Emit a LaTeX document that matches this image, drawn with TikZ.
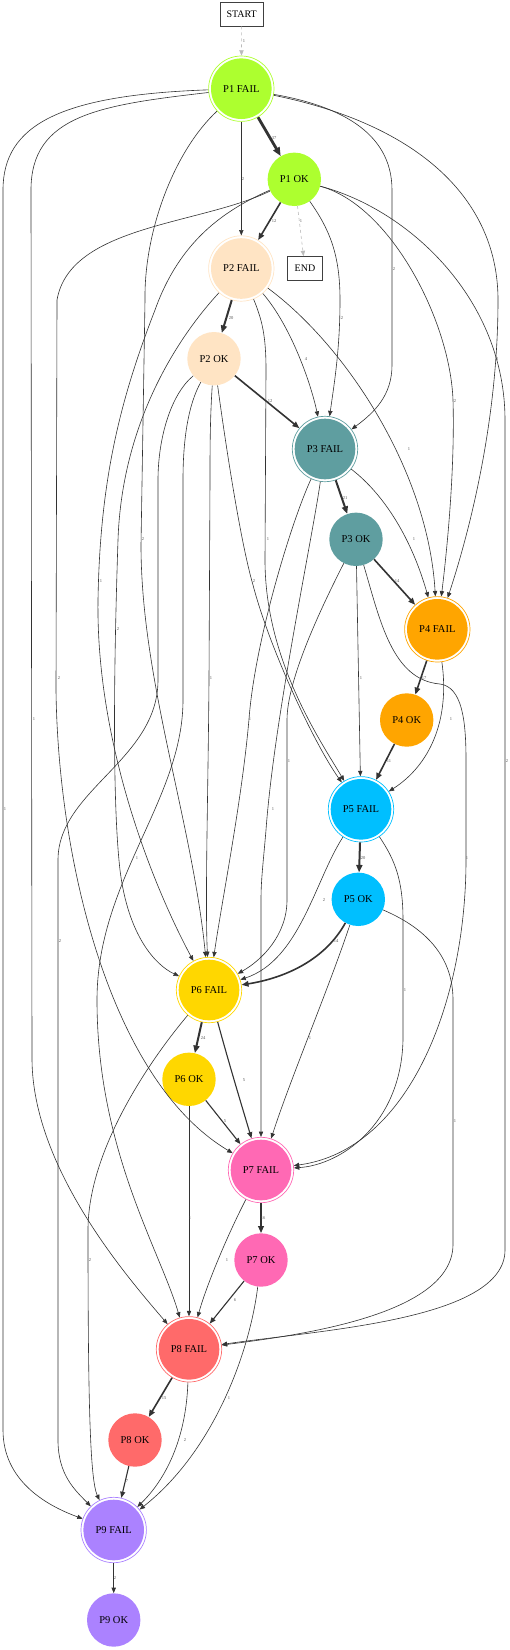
\documentclass[tikz,border=0pt]{standalone}
\usepackage{fontspec}
\setmainfont{Liberation Serif}
\usetikzlibrary{arrows.meta}
\definecolor{cP1}{HTML}{ADFF2F}
\definecolor{cP2}{HTML}{FFE4C4}
\definecolor{cP3}{HTML}{5F9EA0}
\definecolor{cP4}{HTML}{FFA500}
\definecolor{cP5}{HTML}{00BFFF}
\definecolor{cP6}{HTML}{FFD700}
\definecolor{cP7}{HTML}{FF69B4}
\definecolor{cP8}{HTML}{FF6A6A}
\definecolor{cP9}{HTML}{AB82FF}
\definecolor{edgec}{HTML}{333333}
\definecolor{lgray}{HTML}{BBBBBB}
\definecolor{lblc}{HTML}{555555}
\begin{document}
\begin{tikzpicture}[x=1pt,y=-1pt,
  failn/.style={circle, minimum size=65.4pt, inner sep=0pt, draw=#1, line width=0.7pt,
    font=\fontsize{10.5}{12}\selectfont,
    path picture={\fill[#1] (path picture bounding box.center) circle (30.3pt);}},
  okn/.style={circle, minimum size=53.4pt, inner sep=0pt, fill=#1,
    font=\fontsize{10.5}{12}\selectfont},
  boxn/.style={rectangle, draw=black!75, line width=0.6pt, minimum height=24pt,
    inner xsep=5pt, font=\fontsize{10}{12}\selectfont},
  ed/.style={draw=edgec, line width=0.6pt, -{Triangle[length=4.5pt 1.5, width=3.6pt 1.2]}},
  w2/.style={line width=1.1pt},
  w3/.style={line width=1.6pt},
  w4/.style={line width=2pt},
  w5/.style={line width=2.8pt},
  gd/.style={draw=lgray, dashed},
  lbl/.style={font=\fontsize{4.5}{5}\selectfont, text=lblc, inner sep=0pt}
]
\useasboundingbox (0,0) rectangle (510,1650);

% nodes
\node[boxn, minimum width=43pt] (start) at (241.7,14) {START};
\node[boxn, minimum width=35pt] (end) at (305,268.5) {END};
\node[failn=cP1] (p1f) at (241.3,88.7) {P1 FAIL};
\node[okn=cP1] (p1o) at (294.3,179.3) {P1 OK};
\node[failn=cP2] (p2f) at (241.3,268.5) {P2 FAIL};
\node[okn=cP2] (p2o) at (214,358.7) {P2 OK};
\node[failn=cP3] (p3f) at (325,449) {P3 FAIL};
\node[okn=cP3] (p3o) at (356,539.3) {P3 OK};
\node[failn=cP4] (p4f) at (437.3,629.3) {P4 FAIL};
\node[okn=cP4] (p4o) at (406.7,720) {P4 OK};
\node[failn=cP5] (p5f) at (361,809.3) {P5 FAIL};
\node[okn=cP5] (p5o) at (358.3,899.3) {P5 OK};
\node[failn=cP6] (p6f) at (209,990) {P6 FAIL};
\node[okn=cP6] (p6o) at (189,1079.3) {P6 OK};
\node[failn=cP7] (p7f) at (261,1170) {P7 FAIL};
\node[okn=cP7] (p7o) at (261,1260) {P7 OK};
\node[failn=cP8] (p8f) at (189,1349.3) {P8 FAIL};
\node[okn=cP8] (p8o) at (135,1440) {P8 OK};
\node[failn=cP9] (p9f) at (113.7,1530) {P9 FAIL};
\node[okn=cP9] (p9o) at (113.7,1620) {P9 OK};

% edges
\draw[ed,gd] (start) -- (p1f);
\draw[ed,w5] (p1f) -- (p1o);
\draw[ed] (p1f) -- (p2f);
\draw[ed] (p1f) .. controls (335,105) and (392,130) .. (392,190) -- (392,365) .. controls (392,395) and (375,412) .. (p3f);
\draw[ed] (p1f) .. controls (420,125) and (498,200) .. (498,300) .. controls (498,420) and (470,530) .. (p4f);
\draw[ed] (p1f) .. controls (175,150) and (144,230) .. (145,300) -- (141,545) .. controls (141,680) and (192,820) .. (p6f);
\draw[ed] (p1f) .. controls (100,105) and (31,115) .. (31,190) -- (32,1060) .. controls (33,1170) and (130,1280) .. (p8f);
\draw[ed] (p1f) .. controls (60,95) and (3,125) .. (3,190) -- (3,1430) .. controls (3,1480) and (45,1505) .. (p9f);
\draw[ed,w3] (p1o) -- (p2f);
\draw[ed,gd] (p1o) -- (end);
\draw[ed] (p1o) .. controls (330,230) and (340,255) .. (340,300) .. controls (340,350) and (334,385) .. (p3f);
\draw[ed] (p1o) .. controls (390,205) and (450,320) .. (453,400) .. controls (455,470) and (447,550) .. (p4f);
\draw[ed] (p1o) .. controls (410,210) and (505,300) .. (505,420) -- (505,1250) .. controls (505,1320) and (320,1330) .. (p8f);
\draw[ed] (p1o) .. controls (225,210) and (180,240) .. (155,310) .. controls (120,400) and (100,480) .. (98,600) .. controls (96,740) and (150,880) .. (p6f);
\draw[ed] (p1o) .. controls (200,225) and (70,225) .. (57,300) -- (56,690) .. controls (58,860) and (110,1080) .. (p7f);
\draw[ed,w4] (p2f) -- (p2o);
\draw[ed] (p2f) .. controls (290,325) and (310,380) .. (p3f);
\draw[ed] (p2f) .. controls (345,345) and (428,470) .. (p4f);
\draw[ed] (p2f) .. controls (262,320) and (266,335) .. (266,370) -- (265,560) .. controls (265,660) and (320,740) .. (p5f);
\draw[ed] (p2f) .. controls (180,335) and (122,420) .. (118,540) .. controls (114,660) and (112,800) .. (120,870) .. controls (128,935) and (155,965) .. (p6f);
\draw[ed,w3] (p2o) -- (p3f);
\draw[ed] (p2o) .. controls (225,440) and (240,540) .. (253,585) .. controls (270,650) and (315,745) .. (p5f);
\draw[ed] (p2o) .. controls (210,420) and (210,450) .. (210,480) -- (209,680) .. controls (208,800) and (205,900) .. (p6f);
\draw[ed] (p2o) .. controls (188,405) and (183,440) .. (183,480) -- (183,700) .. controls (183,800) and (97,880) .. (97,1000) .. controls (97,1150) and (160,1250) .. (p8f);
\draw[ed] (p2o) .. controls (170,395) and (158,440) .. (158,480) -- (158,680) .. controls (158,760) and (58,790) .. (58,860) -- (58,1440) .. controls (58,1475) and (75,1490) .. (p9f);
\draw[ed,w4] (p3f) -- (p3o);
\draw[ed] (p3f) .. controls (385,495) and (412,540) .. (p4f);
\draw[ed] (p3f) .. controls (292,520) and (255,640) .. (249,719) .. controls (242,800) and (222,900) .. (p6f);
\draw[ed] (p3f) .. controls (312,540) and (274,720) .. (266,830) .. controls (263,865) and (261,880) .. (261,900) -- (p7f);
\draw[ed,w3] (p3o) -- (p4f);
\draw[ed] (p3o) -- (p5f);
\draw[ed] (p3o) .. controls (320,610) and (287,680) .. (287,720) -- (287,900) .. controls (287,935) and (262,960) .. (p6f);
\draw[ed] (p3o) .. controls (380,620) and (392,680) .. (440,684) .. controls (462,687) and (466,720) .. (466,760) -- (466,860) .. controls (466,1000) and (410,1150) .. (p7f);
\draw[ed,w3] (p4f) -- (p4o);
\draw[ed] (p4f) .. controls (450,720) and (430,765) .. (p5f);
\draw[ed,w3] (p4o) -- (p5f);
\draw[ed,w4] (p5f) -- (p5o);
\draw[ed] (p5f) .. controls (315,880) and (300,960) .. (p6f);
\draw[ed] (p5f) .. controls (395,860) and (403,880) .. (403,920) -- (403,1040) .. controls (401,1125) and (340,1165) .. (p7f);
\draw[ed,w3] (p5o) .. controls (325,960) and (285,978) .. (p6f);
\draw[ed] (p5o) .. controls (330,985) and (290,1080) .. (p7f);
\draw[ed] (p5o) .. controls (430,930) and (453,960) .. (453,1000) -- (453,1245) .. controls (452,1315) and (300,1335) .. (p8f);
\draw[ed,w4] (p6f) -- (p6o);
\draw[ed,w2] (p6f) .. controls (228,1060) and (240,1100) .. (p7f);
\draw[ed] (p6f) .. controls (150,1060) and (88,1150) .. (88,1230) .. controls (88,1400) and (90,1480) .. (p9f);
\draw[ed,w2] (p6o) -- (p7f);
\draw[ed] (p6o) -- (p8f);
\draw[ed,w3] (p7f) -- (p7o);
\draw[ed] (p7f) .. controls (225,1240) and (205,1290) .. (p8f);
\draw[ed,w2] (p7o) -- (p8f);
\draw[ed] (p7o) .. controls (250,1350) and (215,1450) .. (p9f);
\draw[ed,w3] (p8f) -- (p8o);
\draw[ed] (p8f) .. controls (186,1440) and (165,1480) .. (p9f);
\draw[ed,w2] (p8o) -- (p9f);
\draw[ed] (p9f) -- (p9o);

% labels
\node[lbl] (l1) at (244,41) {1};
\node[lbl] (l2) at (274,138) {37};
\node[lbl] (l3) at (243,179) {2};
\node[lbl] (l4) at (274,221) {12};
\node[lbl] (l5) at (301,221) {1};
\node[lbl] (l6) at (394,269) {2};
\node[lbl] (l7) at (231,318) {20};
\node[lbl] (l8) at (342,318) {2};
\node[lbl] (l9) at (306,359) {4};
\node[lbl] (l10) at (497,359) {3};
\node[lbl] (l11) at (270,401) {12};
\node[lbl] (l12) at (455,401) {2};
\node[lbl] (l13) at (409,449) {1};
\node[lbl] (l14) at (345,498) {21};
\node[lbl] (l15) at (143,539) {2};
\node[lbl] (l16) at (268,539) {1};
\node[lbl] (l17) at (414,539) {1};
\node[lbl] (l18) at (101,581) {1};
\node[lbl] (l19) at (254,581) {2};
\node[lbl] (l20) at (397,581) {14};
\node[lbl] (l21) at (118,629) {2};
\node[lbl] (l22) at (59,678) {2};
\node[lbl] (l23) at (211,678) {1};
\node[lbl] (l24) at (361,678) {1};
\node[lbl] (l25) at (424,678) {17};
\node[lbl] (l26) at (34,719) {1};
\node[lbl] (l27) at (250,719) {1};
\node[lbl] (l28) at (451,719) {1};
\node[lbl] (l29) at (289,761) {1};
\node[lbl] (l30) at (389,761) {11};
\node[lbl] (l31) at (507,761) {2};
\node[lbl] (l32) at (5,809) {1};
\node[lbl] (l33) at (273,809) {1};
\node[lbl] (l34) at (137,858) {1};
\node[lbl] (l35) at (363,858) {20};
\node[lbl] (l36) at (467,858) {1};
\node[lbl] (l37) at (324,900) {2};
\node[lbl] (l38) at (60,941) {2};
\node[lbl] (l39) at (336,941) {14};
\node[lbl] (l40) at (405,990) {1};
\node[lbl] (l41) at (203,1038) {24};
\node[lbl] (l42) at (310,1038) {1};
\node[lbl] (l43) at (244,1080) {5};
\node[lbl] (l44) at (225,1121) {5};
\node[lbl] (l45) at (455,1121) {1};
\node[lbl] (l46) at (190,1218) {1};
\node[lbl] (l47) at (263,1218) {16};
\node[lbl] (l48) at (90,1260) {2};
\node[lbl] (l49) at (227,1260) {1};
\node[lbl] (l50) at (235,1300) {6};
\node[lbl] (l51) at (164,1398) {15};
\node[lbl] (l52) at (229,1398) {1};
\node[lbl] (l53) at (185,1440) {2};
\node[lbl] (l54) at (127,1481) {7};
\node[lbl] (l55) at (115,1578) {2};
\end{tikzpicture}
\end{document}
